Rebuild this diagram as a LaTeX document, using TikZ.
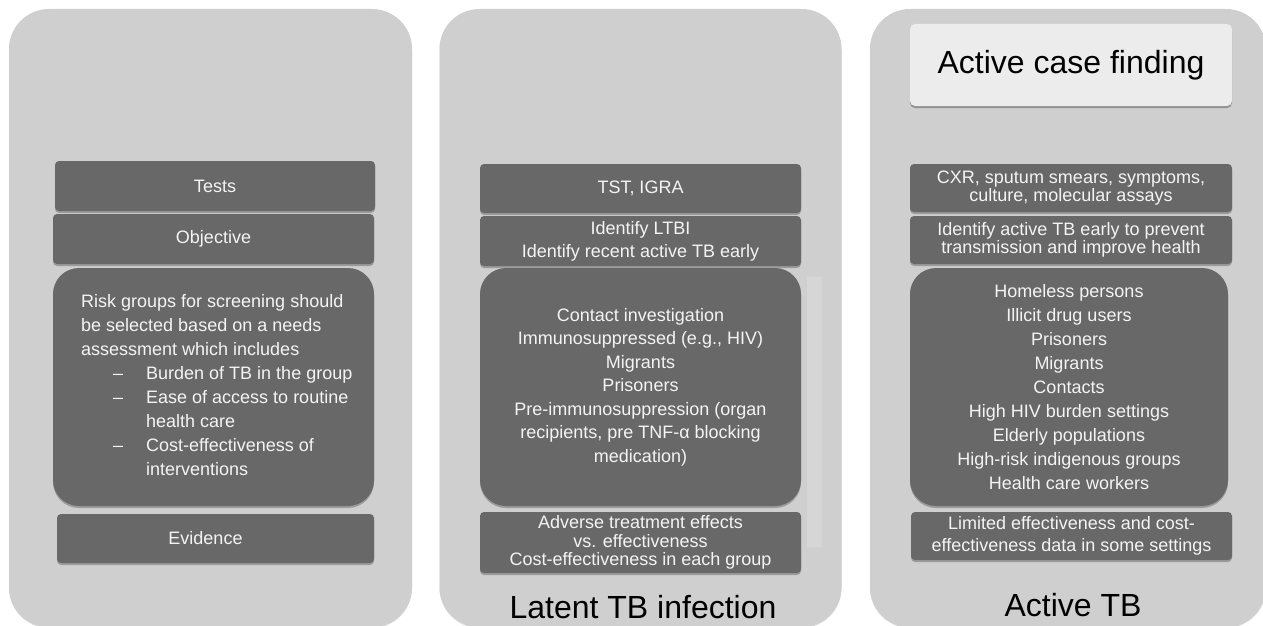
\documentclass[tikz,border=0pt]{standalone}
\usepackage{fontspec}
\setmainfont{Liberation Sans}
\usetikzlibrary{shadows}
\definecolor{panelgray}{HTML}{CFCFCF}
\definecolor{boxgray}{HTML}{686868}
\definecolor{lightbox}{HTML}{ECECEC}
\definecolor{stripgray}{HTML}{D6D6D6}
\definecolor{boxtext}{HTML}{F4F4F4}
\tikzset{
  panel/.style={fill=panelgray, draw=none, rounded corners=40pt, inner sep=0pt,
    drop shadow={shadow xshift=0pt, shadow yshift=-1pt, opacity=0.15, fill=black}},
  dbox/.style={fill=boxgray, draw=none, rounded corners=4pt, inner sep=0pt,
    text=boxtext, align=center, font=\fontsize{18}{22}\selectfont,
    drop shadow={shadow xshift=0pt, shadow yshift=-2pt, opacity=0.25, fill=black}},
  bigbox/.style={dbox, rounded corners=26pt},
  lbox/.style={fill=lightbox, draw=none, rounded corners=5pt, inner sep=0pt,
    text=black, align=center, font=\fontsize{32}{36}\selectfont,
    drop shadow={shadow xshift=0pt, shadow yshift=-2pt, opacity=0.3, fill=black}},
  title/.style={text=black, inner sep=0pt, font=\fontsize{32}{36}\selectfont},
  boxlabel/.style={text=boxtext, inner sep=0pt, font=\fontsize{18}{24}\selectfont},
}
\begin{document}
\begin{tikzpicture}[x=1pt, y=-1pt]
\useasboundingbox (0,0) rectangle (1263,626);
\begin{scope}
\clip (0,0) rectangle (1263,626);
% panels
\node[panel, minimum width=403pt, minimum height=618pt] (p1) at (210.5,318) {};
\node[panel, minimum width=402pt, minimum height=618pt] (p2) at (640.5,318) {};
\node[panel, minimum width=396pt, minimum height=618pt] (p3) at (1068,318) {};
% faint strip in panel 2
\node[fill=stripgray, draw=none, inner sep=0pt, minimum width=15pt, minimum height=270pt] (strip) at (814.5,412) {};

% ---- panel 1
\node[dbox, minimum width=320pt, minimum height=50pt] (tests) at (215,186) {Tests};
\node[dbox, minimum width=321pt, minimum height=50pt] (obj) at (213.5,239) {Objective};
\node[bigbox, minimum width=321pt, minimum height=238pt] (risk) at (213.5,387) {};
\node[boxlabel, anchor=west, align=left] (risktext) at (81,385)
 {Risk groups for screening should\\
  be selected based on a needs\\
  assessment which includes\\
  \makebox[65pt][l]{\hspace*{32pt}–}Burden of TB in the group\\
  \makebox[65pt][l]{\hspace*{32pt}–}Ease of access to routine\\
  \makebox[65pt][l]{}health care\\
  \makebox[65pt][l]{\hspace*{32pt}–}Cost-effectiveness of\\
  \makebox[65pt][l]{}interventions};
\node[dbox, minimum width=317pt, minimum height=49pt] (evid) at (215.5,538.5) {\hspace*{-20pt}Evidence};

% ---- panel 2
\node[dbox, minimum width=321pt, minimum height=49pt] (tst) at (640.5,188.5) {TST, IGRA};
\node[dbox, minimum width=321pt, minimum height=50pt, font=\fontsize{18}{23}\selectfont] (ltbi) at (640.5,241)
 {Identify LTBI\\Identify recent active TB early};
\node[bigbox, minimum width=321pt, minimum height=238pt, font=\fontsize{18}{23.5}\selectfont] (groups2) at (640.5,387)
 {Contact investigation\\Immunosuppressed (e.g., HIV)\\Migrants\\Prisoners\\Pre-immunosuppression (organ\\recipients, pre TNF-α blocking\\medication)};
\node[dbox, minimum width=321pt, minimum height=61pt, font=\fontsize{18}{18.5}\selectfont] (adv) at (640.5,542.5)
 {Adverse treatment effects\\vs. effectiveness\\Cost-effectiveness in each group};
\node[title] (latent) at (643,607) {Latent TB infection};

% ---- panel 3
\node[lbox, minimum width=322pt, minimum height=82pt] (acf) at (1071,65) {Active case finding};
\node[dbox, minimum width=322pt, minimum height=48pt, font=\fontsize{18}{18}\selectfont] (cxr) at (1071,188)
 {CXR, sputum smears, symptoms,\\culture, molecular assays};
\node[dbox, minimum width=322pt, minimum height=48pt, font=\fontsize{18}{18}\selectfont] (idact) at (1071,240)
 {Identify active TB early to prevent\\transmission and improve health};
\node[bigbox, minimum width=318pt, minimum height=238pt, font=\fontsize{18}{24}\selectfont] (groups3) at (1069,387)
 {Homeless persons\\Illicit drug users\\Prisoners\\Migrants\\Contacts\\High HIV burden settings\\Elderly populations\\High-risk indigenous groups\\Health care workers};
\node[dbox, minimum width=321pt, minimum height=48pt, font=\fontsize{18}{21.5}\selectfont] (lim) at (1071.5,536)
 {Limited effectiveness and cost-\\effectiveness data in some settings};
\node[title] (active) at (1073,605) {Active TB};
\end{scope}
\end{tikzpicture}
\end{document}
